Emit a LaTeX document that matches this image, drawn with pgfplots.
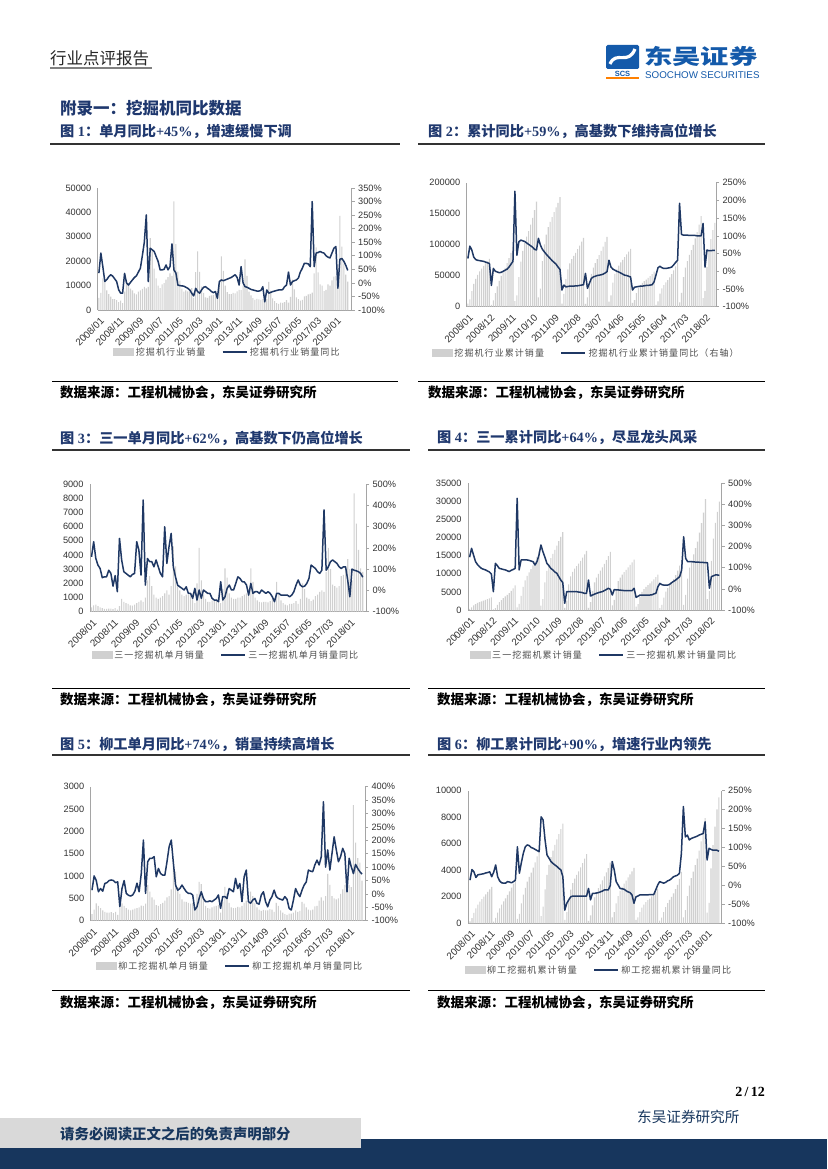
\documentclass[border=0pt]{standalone}
\usepackage{pgfplots}
\pgfplotsset{compat=1.18}
\usepackage{pgfplotstable}
\usepackage{fontspec}
\setmainfont{Liberation Serif}
\newfontfamily\cjk{Noto Sans CJK SC}
\newfontfamily\cjkleg[LetterSpace=12]{Noto Sans CJK SC}
\newfontfamily\chartfont{Liberation Sans}
\newcommand\C[1]{{\cjk #1}}
\definecolor{navy}{RGB}{31,56,100}
\definecolor{bargray}{RGB}{208,208,208}
\definecolor{titleblue}{RGB}{31,56,110}
\definecolor{logoblue}{RGB}{20,90,170}
\definecolor{footnavy}{RGB}{23,54,93}
\definecolor{footgray}{RGB}{217,217,217}
\definecolor{axgray}{RGB}{165,165,165}

\pgfplotstableread[row sep=\\]{
i b y\\
0 5000 36\\ 1 7000 110\\ 2 13000 60\\ 3 12000 5\\ 4 8000 12\\ 5 6500 23\\ 6 5500 30\\ 7 4500 25\\ 8 4500 15\\ 9 4000 5\\ 10 3200 -25\\ 11 3800 -38\\
12 2800 -38\\ 13 7500 35\\ 14 11500 0\\ 15 11000 -8\\ 16 8800 2\\ 17 8000 11\\ 18 6800 20\\ 19 6400 26\\ 20 7500 40\\ 21 8000 54\\ 22 8700 100\\ 23 9500 150\\
24 8900 251\\ 25 9500 5\\ 26 29500 128\\ 27 25000 122\\ 28 17000 116\\ 29 13000 97\\ 30 10000 79\\ 31 9000 48\\ 32 10500 48\\ 33 11000 50\\ 34 12500 66\\ 35 13500 48\\
36 15000 60\\ 37 14000 144\\ 38 44500 48\\ 39 27000 36\\ 40 15700 -8\\ 41 12000 -10\\ 42 8800 -11\\ 43 7500 -12\\ 44 8000 -16\\ 45 7600 -20\\ 46 7500 -26\\ 47 9000 -38\\
48 5000 -48\\ 49 15500 -20\\ 50 24000 -32\\ 51 15600 -38\\ 52 9600 -26\\ 53 7000 -16\\ 54 5200 -14\\ 55 5000 -20\\ 56 5800 -25\\ 57 6000 -32\\ 58 6200 -36\\ 59 6300 -32\\
60 4600 -57\\ 61 10300 5\\ 62 22000 11\\ 63 16000 8\\ 64 10000 11\\ 65 7300 14\\ 66 6500 17\\ 67 6500 20\\ 68 7000 25\\ 69 6800 30\\ 70 7600 20\\ 71 8200 -8\\
72 8100 60\\ 73 10000 0\\ 74 20800 -14\\ 75 14000 -16\\ 76 7500 -20\\ 77 6000 -24\\ 78 4900 -26\\ 79 4200 -28\\ 80 4600 -30\\ 81 4400 -30\\ 82 4200 -28\\ 83 4500 -14\\
84 6000 -70\\ 85 4500 -26\\ 86 11500 -38\\ 87 7900 -35\\ 88 4800 -32\\ 89 3600 -30\\ 90 2800 -28\\ 91 2500 -26\\ 92 3000 -26\\ 93 2900 -25\\ 94 3200 -14\\ 95 4000 -8\\
96 3000 40\\ 97 5400 -8\\ 98 12500 5\\ 99 8500 8\\ 100 5200 11\\ 101 4500 18\\ 102 3800 40\\ 103 4200 54\\ 104 5600 72\\ 105 5800 72\\ 106 6400 70\\ 107 6600 60\\
108 7100 300\\ 109 15000 60\\ 110 25700 110\\ 111 15400 112\\ 112 10500 116\\ 113 10000 112\\ 114 7700 110\\ 115 8200 100\\ 116 10500 95\\ 117 10000 92\\ 118 12100 110\\ 119 13700 128\\
120 14000 134\\ 121 11500 -20\\ 122 38600 87\\ 123 26000 90\\ 124 19000 80\\ 125 14500 65\\ 126 11600 46\\
}\tA

\pgfplotstableread[row sep=\\]{
i b y\\
0 5000 36\\ 1 12000 71\\ 2 25000 60\\ 3 37000 40\\ 4 45000 33\\ 5 51500 31\\ 6 57000 30\\ 7 61500 29\\ 8 66000 28\\ 9 70000 26\\ 10 73200 24\\ 11 77000 22\\
12 2800 -40\\ 13 10300 8\\ 14 21800 0\\ 15 32800 -2\\ 16 41600 -4\\ 17 49600 -3\\ 18 56400 0\\ 19 62800 3\\ 20 70300 6\\ 21 78300 12\\ 22 87000 20\\ 23 96500 28\\
24 8900 226\\ 25 18400 45\\ 26 47900 83\\ 27 72900 88\\ 28 89900 86\\ 29 102900 84\\ 30 112900 80\\ 31 121900 76\\ 32 132400 72\\ 33 143400 68\\ 34 155900 62\\ 35 169400 60\\
36 15000 93\\ 37 29000 74\\ 38 73500 62\\ 39 100500 55\\ 40 116200 48\\ 41 128200 42\\ 42 137000 36\\ 43 144500 30\\ 44 152500 25\\ 45 160100 20\\ 46 167600 12\\ 47 176600 5\\
48 5000 -53\\ 49 20500 -39\\ 50 44500 -44\\ 51 60100 -43\\ 52 69700 -42\\ 53 76700 -42\\ 54 81900 -42\\ 55 86900 -41\\ 56 92700 -41\\ 57 98700 -40\\ 58 104900 -39\\ 59 111200 -38\\
60 4600 -6\\ 61 14900 -48\\ 62 36900 -34\\ 63 52900 -20\\ 64 62900 -16\\ 65 70200 -14\\ 66 76700 -12\\ 67 83200 -11\\ 68 90200 -10\\ 69 97000 -8\\ 70 104600 -5\\ 71 112800 -1\\
72 8100 31\\ 73 18100 12\\ 74 38900 6\\ 75 52900 3\\ 76 60400 0\\ 77 66400 -2\\ 78 71300 -5\\ 79 75500 -8\\ 80 80100 -11\\ 81 84500 -12\\ 82 88700 -14\\ 83 93200 -16\\
84 6000 -53\\ 85 10500 -45\\ 86 22000 -44\\ 87 29900 -43\\ 88 34700 -42\\ 89 38300 -42\\ 90 41100 -41\\ 91 43600 -40\\ 92 46600 -40\\ 93 49500 -39\\ 94 52700 -38\\ 95 56700 -30\\
96 3000 -10\\ 97 8400 10\\ 98 20900 14\\ 99 29400 10\\ 100 34600 8\\ 101 39100 8\\ 102 42900 9\\ 103 47100 10\\ 104 52700 12\\ 105 58500 18\\ 106 64900 25\\ 107 71500 31\\
108 7100 192\\ 109 22100 104\\ 110 47800 102\\ 111 63200 102\\ 112 73700 102\\ 113 83700 101\\ 114 91400 101\\ 115 99600 101\\ 116 110100 101\\ 117 120100 100\\ 118 132200 100\\ 119 145900 100\\
120 14000 135\\ 121 25500 12\\ 122 64100 60\\ 123 90100 58\\ 124 109100 58\\ 125 123600 59\\ 126 135200 59\\
}\tB

\pgfplotstableread[row sep=\\]{
i b y\\
0 300 158\\ 1 450 229\\ 2 500 150\\ 3 400 119\\ 4 300 103\\ 5 250 60\\ 6 200 64\\ 7 200 64\\ 8 220 95\\ 9 220 80\\ 10 180 20\\ 11 250 70\\
12 150 -6\\ 13 400 244\\ 14 900 143\\ 15 700 88\\ 16 600 80\\ 17 550 72\\ 18 450 64\\ 19 420 75\\ 20 500 80\\ 21 600 229\\ 22 700 190\\ 23 800 72\\
24 700 425\\ 25 1000 25\\ 26 2200 150\\ 27 2500 135\\ 28 1800 135\\ 29 1200 111\\ 30 1000 143\\ 31 900 111\\ 32 1000 80\\ 33 1100 64\\ 34 1300 299\\ 35 1500 127\\
36 1200 205\\ 37 1800 268\\ 38 4600 111\\ 39 3200 64\\ 40 2000 25\\ 41 1500 17\\ 42 1200 10\\ 43 1100 2\\ 44 1200 17\\ 45 1200 -14\\ 46 1200 -14\\ 47 1300 -37\\
48 600 10\\ 49 2000 -45\\ 50 4500 2\\ 51 2200 -37\\ 52 1200 2\\ 53 900 -6\\ 54 700 -14\\ 55 700 -14\\ 56 800 -37\\ 57 850 -45\\ 58 900 -45\\ 59 1000 -53\\
60 600 41\\ 61 1600 -45\\ 62 3050 -30\\ 63 2400 10\\ 64 1300 25\\ 65 1000 2\\ 66 900 2\\ 67 900 33\\ 68 1000 64\\ 69 1000 56\\ 70 1100 41\\ 71 1200 40\\
72 1300 25\\ 73 1500 -22\\ 74 3050 33\\ 75 2100 -14\\ 76 1000 -6\\ 77 800 -6\\ 78 700 -14\\ 79 650 2\\ 80 700 -6\\ 81 700 -14\\ 82 650 -6\\ 83 750 -14\\
84 900 -30\\ 85 700 -53\\ 86 2100 -14\\ 87 1300 -14\\ 88 800 -22\\ 89 600 -22\\ 90 500 -22\\ 91 450 -22\\ 92 550 -30\\ 93 550 -22\\ 94 600 -6\\ 95 750 25\\
96 550 49\\ 97 900 25\\ 98 2000 17\\ 99 1600 20\\ 100 1000 33\\ 101 900 56\\ 102 750 119\\ 103 850 111\\ 104 1100 103\\ 105 1200 88\\ 106 1400 80\\ 107 1500 95\\
108 1400 378\\ 109 2800 95\\ 110 4500 111\\ 111 3000 135\\ 112 1900 143\\ 113 1800 135\\ 114 1700 127\\ 115 1800 111\\ 116 2500 103\\ 117 2600 111\\ 118 2900 111\\ 119 3700 49\\
120 3000 -30\\ 121 2200 100\\ 122 8340 95\\ 123 6200 92\\ 124 4350 88\\ 125 3050 80\\ 126 2800 62\\
}\tC

\pgfplotstableread[row sep=\\]{
i b y\\
0 300 150\\ 1 750 192\\ 2 1250 160\\ 3 1650 129\\ 4 1950 115\\ 5 2200 105\\ 6 2400 97\\ 7 2600 93\\ 8 2820 90\\ 9 3040 85\\ 10 3220 80\\ 11 3470 70\\
12 150 -13\\ 13 550 121\\ 14 1450 110\\ 15 2150 97\\ 16 2750 95\\ 17 3300 92\\ 18 3750 90\\ 19 4170 86\\ 20 4670 82\\ 21 5270 88\\ 22 5970 92\\ 23 6770 97\\
24 700 429\\ 25 1700 90\\ 26 3900 137\\ 27 6400 137\\ 28 8200 137\\ 29 9400 137\\ 30 10400 135\\ 31 11300 132\\ 32 12300 129\\ 33 13400 113\\ 34 14700 129\\ 35 16200 160\\
36 1200 208\\ 37 3000 176\\ 38 7600 150\\ 39 10800 121\\ 40 12800 110\\ 41 14300 97\\ 42 15500 90\\ 43 16600 80\\ 44 17800 74\\ 45 19000 58\\ 46 20200 42\\ 47 21500 30\\
48 600 -68\\ 49 2600 -13\\ 50 7100 -13\\ 51 9300 -13\\ 52 10500 -13\\ 53 11400 -13\\ 54 12100 -13\\ 55 12800 -15\\ 56 13600 -16\\ 57 14450 -18\\ 58 15350 -21\\ 59 16350 -21\\
60 600 42\\ 61 2200 -34\\ 62 5250 -29\\ 63 7650 -25\\ 64 8950 -21\\ 65 9950 -18\\ 66 10850 -15\\ 67 11750 -13\\ 68 12750 -8\\ 69 13750 -3\\ 70 14850 3\\ 71 16050 -2\\
72 1300 -29\\ 73 2800 -3\\ 74 5850 -5\\ 75 7950 -5\\ 76 8950 -6\\ 77 9750 -7\\ 78 10450 -8\\ 79 11100 -8\\ 80 11800 -8\\ 81 12500 -8\\ 82 13150 -8\\ 83 13900 3\\
84 900 -40\\ 85 1600 -35\\ 86 3700 -29\\ 87 5000 -29\\ 88 5800 -29\\ 89 6400 -29\\ 90 6900 -29\\ 91 7350 -29\\ 92 7900 -28\\ 93 8450 -24\\ 94 9050 -21\\ 95 9800 10\\
96 550 26\\ 97 1450 20\\ 98 3450 18\\ 99 5050 18\\ 100 6050 18\\ 101 6950 22\\ 102 7700 30\\ 103 8550 36\\ 104 9650 42\\ 105 10850 50\\ 106 12250 58\\ 107 13750 90\\
108 1400 247\\ 109 4200 145\\ 110 8700 129\\ 111 11700 129\\ 112 13600 129\\ 113 15400 128\\ 114 17100 127\\ 115 18900 127\\ 116 21400 126\\ 117 24000 125\\ 118 26900 125\\ 119 30600 124\\
120 3000 124\\ 121 5200 3\\ 122 13540 58\\ 123 19740 62\\ 124 24090 66\\ 125 27140 66\\ 126 29940 64\\
}\tD

\pgfplotstableread[row sep=\\]{
i b y\\
0 150 14\\ 1 250 67\\ 2 390 50\\ 3 330 8\\ 4 280 20\\ 5 230 10\\ 6 200 39\\ 7 180 42\\ 8 180 50\\ 9 190 52\\ 10 170 50\\ 11 200 42\\
12 130 45\\ 13 280 -48\\ 14 390 20\\ 15 330 50\\ 16 280 2\\ 17 250 -5\\ 18 230 -8\\ 19 250 -4\\ 20 270 10\\ 21 280 40\\ 22 300 8\\ 23 340 76\\
24 330 201\\ 25 380 2\\ 26 800 120\\ 27 650 133\\ 28 520 133\\ 29 470 139\\ 30 350 64\\ 31 330 95\\ 32 370 76\\ 33 400 70\\ 34 450 70\\ 35 520 120\\
36 550 176\\ 37 700 201\\ 38 1300 114\\ 39 1100 33\\ 40 750 14\\ 41 600 20\\ 42 480 33\\ 43 430 20\\ 44 420 8\\ 45 400 2\\ 46 380 2\\ 47 400 -4\\
48 250 -60\\ 49 600 -48\\ 50 870 -17\\ 51 820 8\\ 52 500 -17\\ 53 330 -29\\ 54 280 -29\\ 55 270 -26\\ 56 300 -29\\ 57 320 -23\\ 58 330 -17\\ 59 350 -4\\
60 180 -54\\ 61 420 -10\\ 62 760 -10\\ 63 600 -17\\ 64 400 20\\ 65 300 14\\ 66 280 8\\ 67 290 58\\ 68 310 20\\ 69 300 39\\ 70 330 -29\\ 71 400 64\\
72 450 89\\ 73 400 -29\\ 74 650 -35\\ 75 550 -23\\ 76 400 -17\\ 77 300 -35\\ 78 250 -38\\ 79 220 -4\\ 80 240 8\\ 81 230 -29\\ 82 230 -48\\ 83 260 -23\\
84 250 -10\\ 85 200 14\\ 86 400 -10\\ 87 330 -17\\ 88 230 -20\\ 89 180 -23\\ 90 150 -10\\ 91 130 -20\\ 92 160 -54\\ 93 160 -60\\ 94 180 -23\\ 95 230 20\\
96 200 2\\ 97 220 -10\\ 98 420 14\\ 99 380 33\\ 100 300 45\\ 101 250 89\\ 102 230 85\\ 103 250 83\\ 104 320 108\\ 105 330 126\\ 106 450 108\\ 107 520 139\\
108 450 344\\ 109 550 100\\ 110 1050 164\\ 111 800 89\\ 112 550 151\\ 113 500 213\\ 114 480 165\\ 115 500 120\\ 116 600 139\\ 117 700 170\\ 118 800 150\\ 119 950 8\\
120 800 133\\ 121 750 101\\ 122 2590 76\\ 123 1750 110\\ 124 1400 95\\ 125 1300 83\\ 126 900 74\\
}\tE

\pgfplotstableread[row sep=\\]{
i b y\\
0 150 14\\ 1 400 42\\ 2 790 36\\ 3 1120 21\\ 4 1400 28\\ 5 1630 29\\ 6 1830 30\\ 7 2010 31\\ 8 2190 33\\ 9 2380 34\\ 10 2550 36\\ 11 2750 23\\
12 130 35\\ 13 410 54\\ 14 800 23\\ 15 1130 12\\ 16 1410 7\\ 17 1660 6\\ 18 1890 6\\ 19 2140 10\\ 20 2410 9\\ 21 2690 7\\ 22 2990 10\\ 23 3330 14\\
24 330 102\\ 25 710 32\\ 26 1510 60\\ 27 2160 85\\ 28 2680 102\\ 29 3150 107\\ 30 3500 105\\ 31 3830 100\\ 32 4200 98\\ 33 4600 95\\ 34 5050 92\\ 35 5570 89\\
36 550 181\\ 37 1250 173\\ 38 2550 120\\ 39 3650 80\\ 40 4400 72\\ 41 5000 63\\ 42 5480 58\\ 43 5910 54\\ 44 6330 50\\ 45 6730 45\\ 46 7110 41\\ 47 7510 23\\
48 250 -65\\ 49 850 -47\\ 50 1720 -38\\ 51 2540 -30\\ 52 3040 -28\\ 53 3370 -28\\ 54 3650 -28\\ 55 3920 -28\\ 56 4220 -28\\ 57 4540 -28\\ 58 4870 -28\\ 59 5220 -28\\
60 180 -8\\ 61 600 -38\\ 62 1360 -21\\ 63 1960 -21\\ 64 2360 -20\\ 65 2660 -19\\ 66 2940 -17\\ 67 3230 -15\\ 68 3540 -12\\ 69 3840 -12\\ 70 4170 -12\\ 71 4570 0\\
72 450 63\\ 73 850 41\\ 74 1500 10\\ 75 2050 1\\ 76 2450 -8\\ 77 2750 -9\\ 78 3000 -10\\ 79 3220 -14\\ 80 3460 -17\\ 81 3690 -19\\ 82 3920 -25\\ 83 4180 -47\\
84 250 -30\\ 85 450 -28\\ 86 850 -25\\ 87 1180 -25\\ 88 1410 -25\\ 89 1590 -25\\ 90 1740 -25\\ 91 1870 -24\\ 92 2030 -24\\ 93 2190 -24\\ 94 2370 -12\\ 95 2600 1\\
96 200 10\\ 97 420 8\\ 98 840 6\\ 99 1220 8\\ 100 1520 12\\ 101 1770 14\\ 102 2000 18\\ 103 2250 23\\ 104 2570 25\\ 105 2900 27\\ 106 3350 32\\ 107 3870 85\\
108 450 208\\ 109 1000 128\\ 110 2050 133\\ 111 2850 120\\ 112 3400 124\\ 113 3900 126\\ 114 4380 128\\ 115 4880 130\\ 116 5480 133\\ 117 6180 135\\ 118 6980 137\\ 119 7930 168\\
120 800 67\\ 121 1550 98\\ 122 4140 95\\ 123 5890 93\\ 124 7290 93\\ 125 8590 93\\ 126 9490 90\\
}\tF

\pgfplotsset{
  every axis/.append style={
    scale only axis, anchor=south west,
    /pgf/number format/fixed,
    /pgf/number format/assume math mode=true,
    /pgf/number format/1000 sep={},
    scaled y ticks=false,
    tick label style={font=\chartfont\fontsize{9.2}{10}\selectfont, text=black!80},
  },
  barax/.style={
    axis y line*=left, axis x line*=bottom,
    axis line style={draw=axgray, line width=0.6pt},
    ytick style={draw=none}, xtick style={draw=none},
    yticklabel style={xshift=-3pt},
    x tick label style={rotate=45, anchor=north east, inner sep=1pt, yshift=-1pt,
      font=\chartfont\fontsize{9.8}{10}\selectfont},
    ymin=0, ybar, bar width=1.1pt,
  },
  lineax/.style={
    axis y line*=right, axis x line=none,
    axis line style={draw=axgray, line width=0.6pt},
    ytick style={draw=axgray, line width=0.6pt}, tick align=outside, major tick length=3pt,
    yticklabel={\pgfmathprintnumber{\tick}\%},
    legend style={draw=none, fill=none, anchor=center, legend columns=2,
      font=\cjkleg\fontsize{9}{10}\selectfont, text=black!70,
      /tikz/every even column/.append style={column sep=14pt}},
    legend cell align=left,
  },
  barleg/.style={legend image code/.code={\fill[bargray] (0pt,-3.5pt) rectangle (20pt,3.5pt);}},
  lineplot/.style={navy, line width=1.5pt, line join=round,
    legend image code/.code={\draw[navy,line width=2.5pt] (0pt,0pt) -- (24pt,0pt);}},
  monthticks/.style={xtick={0,10,...,120}, xticklabels={2008/01,2008/11,2009/09,2010/07,2011/05,2012/03,2013/01,2013/11,2014/09,2015/07,2016/05,2017/03,2018/01}},
  cumticks/.style={xtick={0,11,...,121}, xticklabels={2008/01,2008/12,2009/11,2010/10,2011/09,2012/08,2013/07,2014/06,2015/05,2016/04,2017/03,2018/02}},
}

\begin{document}
\begin{tikzpicture}
\fill[white] (0pt,0pt) rectangle (827pt,-1169pt);
\path[use as bounding box] (0pt,0pt) rectangle (827pt,-1169pt);

\begin{scope}[x=1pt,y=-1pt]
% header
\node[anchor=west, inner sep=0pt, font=\cjk\fontsize{16.5}{17}\selectfont, text=black!85] at (50,58) {行业点评报告};
\draw[gray, line width=1.3pt] (50,68) -- (152,68);
% logo
\fill[logoblue, rounded corners=1.5pt] (606,45) rectangle (639,69);
\draw[white, line width=3.2pt] (610,64) .. controls (616,50) and (628,66) .. (635,49);
\node[inner sep=0pt, font=\chartfont\bfseries\fontsize{7.5}{8}\selectfont, text=logoblue] at (622.5,73.5) {SCS};
\fill[orange] (606,77.5) rectangle (639,79.5);
\node[anchor=west, inner sep=0pt, xscale=1.35, font=\cjk\bfseries\fontsize{21}{22}\selectfont, text=logoblue] at (644,56) {东吴证券};
\node[anchor=west, inner sep=0pt, font=\chartfont\fontsize{9.8}{10}\selectfont, text=logoblue] at (645,75.5) {SOOCHOW SECURITIES};
% heading
\node[anchor=west, inner sep=0pt, font=\cjk\bfseries\fontsize{16.5}{17}\selectfont, text=titleblue] at (60,108) {附录一：挖掘机同比数据};
% titles
\begin{scope}[every node/.style={anchor=west, inner sep=0pt, font=\bfseries\fontsize{14.2}{16}\selectfont, text=titleblue}]
\node at (60,131) {\C{图} 1\C{：单月同比}+45\%\C{，增速缓慢下调}};
\node at (428,131) {\C{图} 2\C{：累计同比}+59\%\C{，高基数下维持高位增长}};
\node at (60,438) {\C{图} 3\C{：三一单月同比}+62\%\C{，高基数下仍高位增长}};
\node at (437,438) {\C{图} 4\C{：三一累计同比}+64\%\C{，尽显龙头风采}};
\node at (60,744) {\C{图} 5\C{：柳工单月同比}+74\%\C{，销量持续高增长}};
\node at (437,744) {\C{图} 6\C{：柳工累计同比}+90\%\C{，增速行业内领先}};
\end{scope}
\begin{scope}[line width=2pt, draw=black!80]
\draw (50,144.5) -- (400,144.5); \draw (418,144.5) -- (765,144.5);
\draw (52,449.5) -- (410,449.5); \draw (428,449.5) -- (765,449.5);
\draw (52,755) -- (410,755); \draw (428,755) -- (765,755);
\end{scope}
\begin{scope}[line width=0.8pt, draw=black]
\draw (52,381.7) -- (398,381.7); \draw (418,381.7) -- (765,381.7);
\draw (52,688) -- (410,688); \draw (428,688) -- (765,688);
\draw (52,990) -- (410,990); \draw (428,990) -- (765,990);
\end{scope}
\begin{scope}[every node/.style={anchor=west, inner sep=0pt, font=\cjk\bfseries\fontsize{13.5}{14}\selectfont, text=black}]
\node at (60,393) {数据来源：工程机械协会，东吴证券研究所};
\node at (428,393) {数据来源：工程机械协会，东吴证券研究所};
\node at (60,699.5) {数据来源：工程机械协会，东吴证券研究所};
\node at (437,699.5) {数据来源：工程机械协会，东吴证券研究所};
\node at (60,1003) {数据来源：工程机械协会，东吴证券研究所};
\node at (437,1003) {数据来源：工程机械协会，东吴证券研究所};
\end{scope}
% footer
\node[anchor=east, inner sep=0pt, font=\bfseries\fontsize{14}{15}\selectfont] at (765,1092) {2\,/\,12};
\fill[footgray] (0,1118) rectangle (361,1148);
\fill[footnavy] (361,1139) rectangle (827,1169);
\fill[footnavy] (0,1148) rectangle (361,1169);
\node[anchor=west, inner sep=0pt, font=\cjk\bfseries\fontsize{14.4}{15}\selectfont, text=footnavy] at (60,1134) {请务必阅读正文之后的免责声明部分};
\node[anchor=west, inner sep=0pt, font=\cjk\fontsize{14.6}{15}\selectfont, text=footnavy] at (637,1117) {东吴证券研究所};
\end{scope}

% ---------- Chart 1
\begin{axis}[barax, monthticks, at={(97.7pt,-310pt)}, width=254pt, height=122pt,
  xmin=-0.6, xmax=128, ymax=50000, ytick={0,10000,...,50000}]
\addplot[fill=bargray, draw=none] table[x=i,y=b]{\tA};
\end{axis}
\begin{axis}[lineax, at={(97.7pt,-310pt)}, width=254pt, height=122pt,
  xmin=-0.6, xmax=128, ymin=-100, ymax=350, ytick={-100,-50,...,350},
  legend style={at={(0.511,-0.344)}}]
\addlegendimage{barleg}\addlegendentry{挖掘机行业销量}
\addplot[lineplot] table[x=i,y=y]{\tA};\addlegendentry{挖掘机行业销量同比}
\end{axis}

% ---------- Chart 2
\begin{axis}[barax, cumticks, at={(466.7pt,-306.7pt)}, width=249.3pt, height=124pt,
  xmin=-0.6, xmax=126.6, ymax=200000, ytick={0,50000,100000,150000,200000}]
\addplot[fill=bargray, draw=none] table[x=i,y=b]{\tB};
\end{axis}
\begin{axis}[lineax, at={(466.7pt,-306.7pt)}, width=249.3pt, height=124pt,
  xmin=-0.6, xmax=126.6, ymin=-100, ymax=250, ytick={-100,-50,...,250},
  legend style={at={(0.48,-0.373)}}]
\addlegendimage{barleg}\addlegendentry{挖掘机行业累计销量}
\addplot[lineplot] table[x=i,y=y]{\tB};\addlegendentry{挖掘机行业累计销量同比（右轴）}
\end{axis}

% ---------- Chart 3
\begin{axis}[barax, monthticks, at={(90pt,-611.7pt)}, width=276pt, height=127.7pt,
  xmin=-0.7, xmax=127.5, ymax=9000, ytick={0,1000,...,9000}]
\addplot[fill=bargray, draw=none] table[x=i,y=b]{\tC};
\end{axis}
\begin{axis}[lineax, at={(90pt,-611.7pt)}, width=276pt, height=127.7pt,
  xmin=-0.7, xmax=127.5, ymin=-100, ymax=500, ytick={-100,0,...,500},
  legend style={at={(0.493,-0.339)}}]
\addlegendimage{barleg}\addlegendentry{三一挖掘机单月销量}
\addplot[lineplot] table[x=i,y=y]{\tC};\addlegendentry{三一挖掘机单月销量同比}
\end{axis}

% ---------- Chart 4
\begin{axis}[barax, cumticks, at={(468pt,-610pt)}, width=253.7pt, height=126.7pt,
  xmin=-0.8, xmax=127.2, ymax=35000, ytick={0,5000,...,35000}]
\addplot[fill=bargray, draw=none] table[x=i,y=b]{\tD};
\end{axis}
\begin{axis}[lineax, at={(468pt,-610pt)}, width=253.7pt, height=126.7pt,
  xmin=-0.8, xmax=127.2, ymin=-100, ymax=500, ytick={-100,0,...,500},
  legend style={at={(0.536,-0.355)}}]
\addlegendimage{barleg}\addlegendentry{三一挖掘机累计销量}
\addplot[lineplot] table[x=i,y=y]{\tD};\addlegendentry{三一挖掘机累计销量同比}
\end{axis}

% ---------- Chart 5
\begin{axis}[barax, monthticks, at={(90.7pt,-920.7pt)}, width=274.3pt, height=134pt,
  xmin=-0.6, xmax=127.4, ymax=3000, ytick={0,500,...,3000}]
\addplot[fill=bargray, draw=none] table[x=i,y=b]{\tE};
\end{axis}
\begin{axis}[lineax, at={(90.7pt,-920.7pt)}, width=274.3pt, height=134pt,
  xmin=-0.6, xmax=127.4, ymin=-100, ymax=400, ytick={-100,-50,...,400},
  legend style={at={(0.508,-0.338)}}]
\addlegendimage{barleg}\addlegendentry{柳工挖掘机单月销量}
\addplot[lineplot] table[x=i,y=y]{\tE};\addlegendentry{柳工挖掘机单月销量同比}
\end{axis}

% ---------- Chart 6
\begin{axis}[barax, monthticks, at={(468pt,-923.3pt)}, width=253.7pt, height=132.6pt,
  xmin=-1, xmax=127.4, ymax=10000, ytick={0,2000,...,10000}]
\addplot[fill=bargray, draw=none] table[x=i,y=b]{\tF};
\end{axis}
\begin{axis}[lineax, at={(468pt,-923.3pt)}, width=253.7pt, height=132.6pt,
  xmin=-1, xmax=127.4, ymin=-100, ymax=250, ytick={-100,-50,...,250},
  legend style={at={(0.516,-0.352)}}]
\addlegendimage{barleg}\addlegendentry{柳工挖掘机累计销量}
\addplot[lineplot] table[x=i,y=y]{\tF};\addlegendentry{柳工挖掘机累计销量同比}
\end{axis}
\end{tikzpicture}
\end{document}
